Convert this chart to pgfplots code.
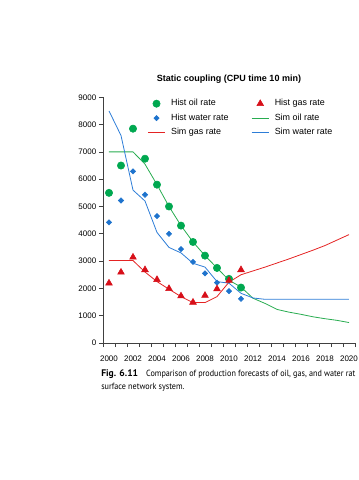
\documentclass[border=0pt]{standalone}
\usepackage{fontspec}
\setmainfont{Liberation Sans}
\newfontfamily\capfont{PT Sans}
\newfontfamily\capnarrow[FakeStretch=0.91]{PT Sans}
\usepackage{pgfplots}
\pgfplotsset{compat=1.18}
\definecolor{oilg}{RGB}{0,168,80}
\definecolor{gasr}{RGB}{215,15,25}
\definecolor{watb}{RGB}{30,115,205}
\definecolor{oill}{RGB}{40,172,80}
\definecolor{gasl}{RGB}{228,35,35}
\definecolor{watl}{RGB}{45,125,215}
\begin{document}
\begin{tikzpicture}
\path[use as bounding box] (0,0) rectangle (269.25pt,-360pt);
\begin{axis}[
  at={(77.25pt,-257.25pt)}, anchor=south west,
  scale only axis, width=189pt, height=184.3pt,
  xmin=1999.5, xmax=2020.5, ymin=0, ymax=9000,
  axis lines=left, axis line style={-, black!75, line width=0.5pt},
  xtick={2000,2002,...,2020},
  major x tick style={draw=none},
  minor xtick={1999.5,2000.5,...,2020.5},
  ytick={0,1000,...,9000},
  tick align=outside, tick style={black!75, line width=0.5pt},
  major tick length=3pt, minor tick length=3pt,
  tick label style={font=\fontsize{6}{7}\selectfont},
  xticklabel style={yshift=-2.8pt},
  yticklabel style={xshift=1.5pt},
  /pgf/number format/.cd, 1000 sep={}, assume math mode=true, /pgfplots/.cd,
  legend style={draw=none, fill=none, font=\fontsize{6.7}{8}\selectfont,
    at={(axis description cs:0.16,1.014)}, anchor=north west,
    /tikz/every odd column/.style={column sep=2.2pt},
    /tikz/every even column/.style={column sep=15pt}, row sep=0.5pt},
  legend columns=2, legend cell align=left,
  legend image code/.code={\draw[mark repeat=2,mark phase=2,#1] plot coordinates {(0cm,0cm) (0.225cm,0cm) (0.45cm,0cm)};},
]
\addlegendimage{only marks, mark=*, mark size=2.75pt, color=oilg}
\addlegendentry{Hist oil rate}
\addlegendimage{only marks, mark=triangle*, mark size=2.9pt, color=gasr}
\addlegendentry{Hist gas rate}
\addlegendimage{only marks, mark=square*, mark options={rotate=45}, mark size=1.4pt, color=watb}
\addlegendentry{Hist water rate}
\addlegendimage{no marks, color=oill, line width=0.6pt}
\addlegendentry{Sim oil rate}
\addlegendimage{no marks, color=gasl, line width=0.6pt}
\addlegendentry{Sim gas rate}
\addlegendimage{no marks, color=watl, line width=0.6pt}
\addlegendentry{Sim water rate}

\addplot[forget plot, no marks, color=oill, line width=0.6pt] coordinates {
(2000,7000)(2001,7000)(2002,7000)(2003,6550)(2004,5800)(2005,5000)(2006,4300)(2007,3700)(2008,3200)(2009,2750)(2010,2300)(2011,2050)(2012,1640)(2013,1450)(2014,1230)(2015,1130)(2016,1050)(2017,960)(2018,890)(2019,830)(2020,750)};
\addplot[forget plot, no marks, color=gasl, line width=0.6pt] coordinates {
(2000,3020)(2001,3020)(2002,3020)(2003,2600)(2004,2250)(2005,1970)(2006,1700)(2007,1480)(2008,1480)(2009,1700)(2010,2230)(2011,2500)(2012,2640)(2013,2780)(2014,2930)(2015,3080)(2016,3240)(2017,3400)(2018,3570)(2019,3770)(2020,3970)};
\addplot[forget plot, no marks, color=watl, line width=0.6pt] coordinates {
(2000,8500)(2001,7600)(2002,5600)(2003,5200)(2004,4050)(2005,3500)(2006,3300)(2007,2920)(2008,2780)(2009,2250)(2010,2190)(2011,1820)(2012,1650)(2013,1600)(2014,1600)(2015,1600)(2016,1600)(2017,1600)(2018,1600)(2019,1600)(2020,1600)};

\addplot[forget plot, only marks, mark=*, mark size=2.75pt, color=oilg] coordinates {
(2000,5500)(2001,6500)(2002,7850)(2003,6750)(2004,5800)(2005,5000)(2006,4300)(2007,3700)(2008,3200)(2009,2750)(2010,2350)(2011,2030)};
\addplot[forget plot, only marks, mark=square*, mark options={rotate=45}, mark size=1.4pt, color=watb] coordinates {
(2000,4420)(2001,5220)(2002,6290)(2003,5430)(2004,4650)(2005,4000)(2006,3440)(2007,2970)(2008,2550)(2009,2210)(2010,1900)(2011,1620)};
\addplot[forget plot, only marks, mark=triangle*, mark size=2.9pt, color=gasr] coordinates {
(2000,2190)(2001,2590)(2002,3140)(2003,2680)(2004,2320)(2005,1990)(2006,1720)(2007,1490)(2008,1740)(2009,1980)(2010,2290)(2011,2680)};
\end{axis}
\node[font=\bfseries\fontsize{6.75}{8}\selectfont] at (171.75pt,-59.25pt) {Static coupling (CPU time 10 min)};
\node[anchor=base west, inner sep=0pt, font=\capnarrow\fontsize{6.7}{8}\selectfont] at (75.75pt,-282pt) {{\capfont\bfseries\fontsize{7.2}{8}\selectfont Fig. 6.11}\hspace{0.9em}Comparison of production forecasts of oil, gas, and water rat};
\node[anchor=base west, inner sep=0pt, font=\capnarrow\fontsize{6.7}{8}\selectfont] at (75.75pt,-291.75pt) {surface network system.};
\end{tikzpicture}
\end{document}
